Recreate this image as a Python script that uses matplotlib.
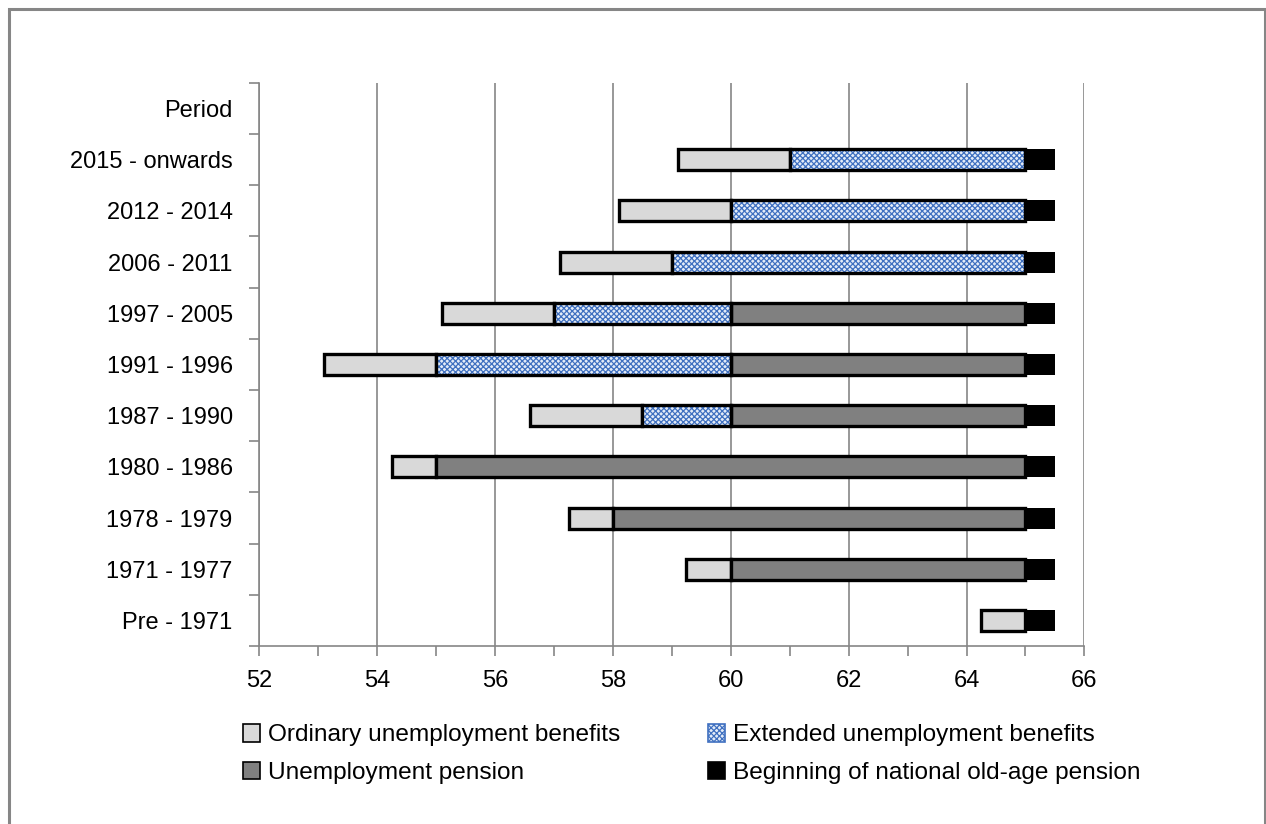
import numpy as np
import matplotlib
matplotlib.use("Agg")
import matplotlib.pyplot as plt
from matplotlib.patches import Patch, Rectangle

plt.rcParams['font.family'] = ['Liberation Sans', 'DejaVu Sans']
plt.rcParams['hatch.linewidth'] = 0.9

# y-axis labels, top to bottom ("Period" is a header row with no bar)
categories = ['Period', '2015 - onwards', '2012 - 2014', '2006 - 2011', '1997 - 2005',
              '1991 - 1996', '1987 - 1990', '1980 - 1986', '1978 - 1979',
              '1971 - 1977', 'Pre - 1971']

# ages (years) where each stage starts / ends, one value per period
ordinary_start = [59.1, 58.1, 57.1, 55.1, 53.1, 56.6, 54.25, 57.25, 59.25, 64.25]
ordinary_end = [61, 60, 59, 57, 55, 58.5, 55, 58, 60, 65]
extended_end = [65, 65, 65, 60, 60, 60, 55, 58, 60, 65]
pension_end = [65, 65, 65, 65, 65, 65, 65, 65, 65, 65]
old_age_end = [65.5, 65.5, 65.5, 65.5, 65.5, 65.5, 65.5, 65.5, 65.5, 65.5]

legend_labels = ['Ordinary unemployment benefits', 'Extended unemployment benefits',
                 'Unemployment pension', 'Beginning of national old-age pension']

grey_light = '#d9d9d9'
grey_dark = '#808080'
hatch_blue = '#3f70c0'
hatch_face = '#e4ecf8'
axis_grey = '#868686'

fig = plt.figure(figsize=(12.66, 8.24), dpi=100)
ax = fig.add_axes([0.2046, 0.216, 0.652, 0.6834])

ypos = np.arange(1, len(categories))
h = 0.41
lw = 2.4

for y, s, e1, e2, e3, e4 in zip(ypos, ordinary_start, ordinary_end,
                                extended_end, pension_end, old_age_end):
    ax.barh(y, e1 - s, left=s, height=h, color=grey_light, edgecolor='black',
            linewidth=lw, zorder=3)
    if e2 > e1:
        ax.barh(y, e2 - e1, left=e1, height=h, color=hatch_face, edgecolor=hatch_blue,
                hatch='xxxxxx', linewidth=0, zorder=3)
        ax.barh(y, e2 - e1, left=e1, height=h, color='none', edgecolor='black',
                linewidth=lw, zorder=4)
    start_p = max(e1, e2)
    if e3 > start_p:
        ax.barh(y, e3 - start_p, left=start_p, height=h, color=grey_dark,
                edgecolor='black', linewidth=lw, zorder=3)
    ax.barh(y, e4 - e3, left=e3, height=h, color='black', edgecolor='black',
            linewidth=0, zorder=3)

ax.set_xlim(52, 66)
ax.set_ylim(len(categories) - 0.5, -0.5)

ax.set_xticks(np.arange(52, 67, 2))
ax.set_xticks(np.arange(53, 66, 2), minor=True)
ax.tick_params(axis='x', which='both', direction='out', length=7, width=1.2,
               color=axis_grey, labelsize=17, pad=10, labelcolor='black')

ax.set_yticks(np.arange(-0.5, len(categories), 1))
ax.set_yticklabels([])
ax.set_yticks(np.arange(len(categories)), minor=True)
ax.set_yticklabels(categories, minor=True)
ax.tick_params(axis='y', which='major', direction='out', length=7, width=1.2,
               color=axis_grey)
ax.tick_params(axis='y', which='minor', length=0, labelsize=17, pad=19,
               labelcolor='black')

ax.grid(axis='x', which='major', color=axis_grey, linewidth=1.2, zorder=0)
ax.set_axisbelow(True)
for side in ['top', 'right']:
    ax.spines[side].set_visible(False)
for side in ['left', 'bottom']:
    ax.spines[side].set_color(axis_grey)
    ax.spines[side].set_linewidth(1.2)

handles = [
    Patch(facecolor=grey_light, edgecolor='black', linewidth=1.2),
    Patch(facecolor=grey_dark, edgecolor='black', linewidth=1.2),
    Patch(facecolor=hatch_face, edgecolor=hatch_blue, hatch='xxxxxx', linewidth=1.2),
    Patch(facecolor='black', edgecolor='black', linewidth=1.2),
]
labels = [legend_labels[0], legend_labels[2], legend_labels[1], legend_labels[3]]
fig.legend(handles, labels, loc='center', bbox_to_anchor=(0.5462, 0.085), ncol=2,
           frameon=False, fontsize=17.6, handlelength=0.72, handleheight=0.72,
           handletextpad=0.3, columnspacing=3.6, labelspacing=0.62)

# outer chart frame
fig.patches.append(Rectangle((0.0075, -0.05), 0.9915, 1.039, transform=fig.transFigure,
                             fill=False, edgecolor=axis_grey, linewidth=2.2))

fig.savefig('out.png', dpi=100, facecolor='white')
